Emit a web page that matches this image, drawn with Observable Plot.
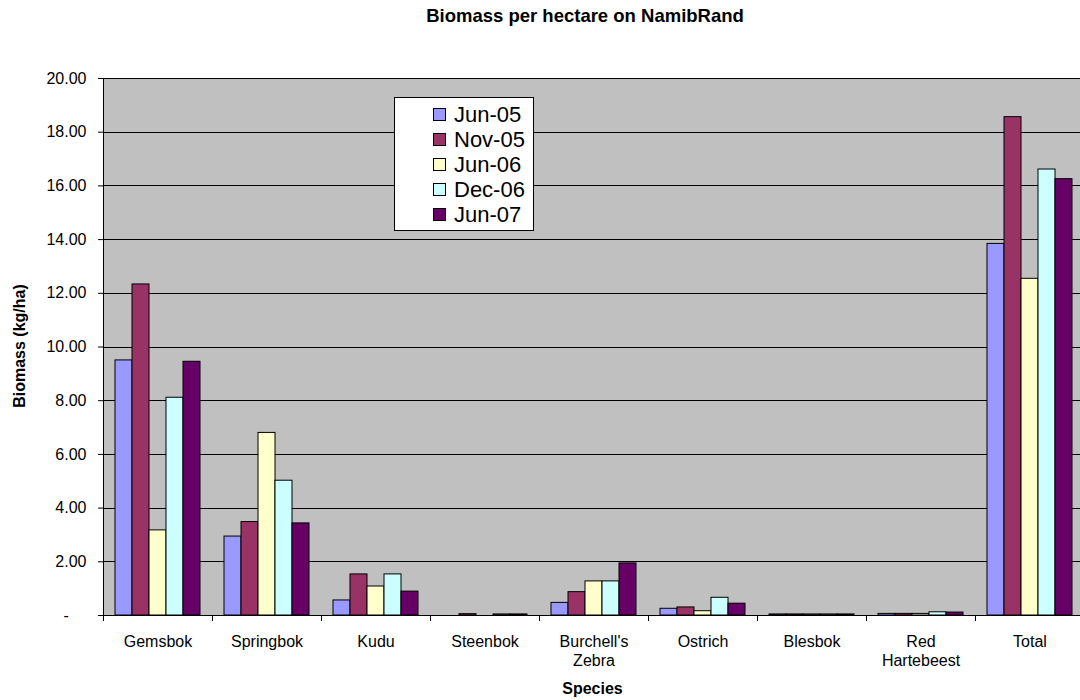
<!DOCTYPE html>
<html>
<head>
<meta charset="utf-8">
<script src="https://cdn.jsdelivr.net/npm/d3@7"></script>
<script src="https://cdn.jsdelivr.net/npm/@observablehq/plot@0.6"></script>
<style>
  html, body { margin: 0; padding: 0; background: #fff; overflow: hidden; }
  body { font-family: "Liberation Sans", Arial, sans-serif; color: #000; }
  #wrap { position: relative; width: 1086px; height: 700px; }
  #title { position: absolute; left: 0; top: 7px; width: 1170px; text-align: center;
           font-weight: bold; font-size: 18.5px; line-height: 18.5px; white-space: nowrap; }
  #chart { position: absolute; left: 0; top: 40px; }
  #ytitle { position: absolute; left: 20px; top: 346px; font-weight: bold; font-size: 16px;
            line-height: 16px; white-space: nowrap; transform: translate(-50%, -50%) rotate(-90deg); }
  #xtitle { position: absolute; left: 0; top: 680.5px; width: 1185px; text-align: center;
            font-weight: bold; font-size: 16px; line-height: 16px; }
  #legend { position: absolute; left: 394px; top: 97px; width: 140px; height: 134px;
            box-sizing: border-box; border: 1px solid #000; background: #fff; padding-top: 4px; }
  .row { display: flex; align-items: center; height: 25px; }
  .sw { width: 13px; height: 13px; box-sizing: border-box; border: 1px solid #000;
        margin-left: 38px; margin-right: 8px; }
  .lab { font-size: 22px; line-height: 25px; }
</style>
</head>
<body>
<div id="wrap">
  <div id="title"></div>
  <div id="chart"></div>
  <div id="ytitle"></div>
  <div id="xtitle"></div>
  <div id="legend"></div>
</div>
<script>
// Species on the x axis and the labels printed under each group
const species = ["Gemsbok", "Springbok", "Kudu", "Steenbok", "Burchell's Zebra",
                 "Ostrich", "Blesbok", "Red Hartebeest", "Total"];
const speciesLabels = ["Gemsbok", "Springbok", "Kudu", "Steenbok", "Burchell's\nZebra",
                       "Ostrich", "Blesbok", "Red\nHartebeest", "Total"];

// Survey dates (one bar per survey in each group)
const surveys = ["Jun-05", "Nov-05", "Jun-06", "Dec-06", "Jun-07"];
const surveyColors = ["#9999ff", "#993366", "#ffffcc", "#ccffff", "#660066"];

// Biomass (kg/ha) per survey, in species order
const jun05 = [9.50, 2.94, 0.56, 0.00, 0.47, 0.25, 0.04, 0.06, 13.84];
const nov05 = [12.33, 3.48, 1.53, 0.05, 0.87, 0.30, 0.04, 0.06, 18.56];
const jun06 = [3.17, 6.80, 1.08, 0.00, 1.27, 0.16, 0.04, 0.06, 12.54];
const dec06 = [8.11, 5.02, 1.53, 0.04, 1.27, 0.66, 0.04, 0.12, 16.61];
const jun07 = [9.45, 3.43, 0.89, 0.04, 1.94, 0.44, 0.04, 0.11, 16.25];

const yTicks = [0, 2, 4, 6, 8, 10, 12, 14, 16, 18, 20];
const yTickLabel = v => v === 0 ? "-\u2007\u2007" : v.toFixed(2);

const titleText = "Biomass per hectare on NamibRand";
const yTitle = "Biomass (kg/ha)";
const xTitle = "Species";

// Long table for the grouped bars
const seriesValues = [jun05, nov05, jun06, dec06, jun07];
const rows = [];
species.forEach((s, i) => {
  surveys.forEach((v, j) => rows.push({species: s, survey: v, value: seriesValues[j][i]}));
});

// Short tick drawn at each category boundary on the x axis
const boundaryTick = {draw(ctx) { ctx.moveTo(0, 0); ctx.lineTo(0, 5); }};

const chart = Plot.plot({
  width: 1086,
  height: 660,
  marginTop: 38,
  marginBottom: 85,
  marginLeft: 100,
  marginRight: 0,
  style: {fontFamily: "'Liberation Sans', Arial, sans-serif", fontSize: "16px", color: "#000", background: "transparent", overflow: "visible"},
  fx: {domain: species, padding: 0},
  x: {domain: surveys, paddingInner: 0, paddingOuter: 0.62, axis: null},
  y: {domain: [0, 20]},
  color: {domain: surveys, range: surveyColors},
  marks: [
    Plot.frame({fill: "#c0c0c0", stroke: "none", shapeRendering: "crispEdges"}),
    Plot.ruleY(yTicks, {stroke: "#000", strokeWidth: 1, shapeRendering: "crispEdges"}),
    Plot.barY(rows, {fx: "species", x: "survey", y: "value", fill: "survey", stroke: "#000", strokeWidth: 1}),
    Plot.ruleY([0], {stroke: "#000", strokeWidth: 1, shapeRendering: "crispEdges"}),
    Plot.frame({anchor: "left", facetAnchor: "left", stroke: "#000", shapeRendering: "crispEdges"}),
    Plot.dot(species, {fx: d => d, frameAnchor: "bottom-left", symbol: boundaryTick, r: 5, stroke: "#000", fill: "none", shapeRendering: "crispEdges"}),
    Plot.axisY({ticks: yTicks, tickFormat: yTickLabel, tickSize: 5, tickPadding: 12, label: null, fontSize: 16}),
    Plot.axisFx({anchor: "bottom", tickSize: 0, tickPadding: 18, label: null, fontSize: 16, lineHeight: 1.2,
                 tickFormat: d => speciesLabels[species.indexOf(d)]})
  ]
});
document.getElementById("chart").appendChild(chart);

document.getElementById("title").textContent = titleText;
document.getElementById("ytitle").textContent = yTitle;
document.getElementById("xtitle").textContent = xTitle;

const legend = document.getElementById("legend");
surveys.forEach((s, i) => {
  const row = document.createElement("div");
  row.className = "row";
  const sw = document.createElement("div");
  sw.className = "sw";
  sw.style.background = surveyColors[i];
  const lab = document.createElement("span");
  lab.className = "lab";
  lab.textContent = s;
  row.appendChild(sw);
  row.appendChild(lab);
  legend.appendChild(row);
});
</script>
</body>
</html>
